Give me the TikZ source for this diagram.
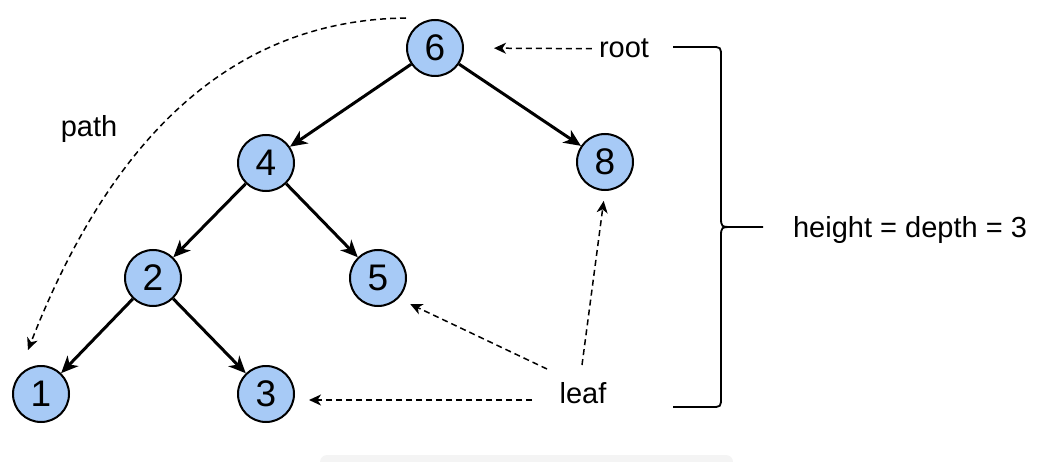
\documentclass[tikz,border=0pt]{standalone}
\usepackage{fontspec}
\setmainfont{Liberation Sans}
\usetikzlibrary{arrows.meta}
\definecolor{nodeblue}{HTML}{A7CAF6}
\definecolor{panelgray}{HTML}{F4F4F4}
\begin{document}
\begin{tikzpicture}[x=1pt,y=-1pt,
  treenode/.style={circle, draw=black, line width=2pt, fill=nodeblue,
    minimum size=56pt, inner sep=0pt, font=\fontsize{37}{42}\selectfont},
  label text/.style={inner sep=0pt, anchor=base, font=\fontsize{29}{34}\selectfont},
  treeedge/.style={line width=3pt, -{Stealth[length=17pt, width=15pt, inset=5pt]}},
  dasharrow/.style={line width=1.5pt, dash pattern=on 6pt off 4pt,
    -{Stealth[length=12pt, width=11pt, inset=3.5pt]}},
  bracket/.style={line width=1.8pt}]
\useasboundingbox (0,0) rectangle (1048,462);

% light panel peeking in at the bottom edge
\begin{scope}
  \clip (0,0) rectangle (1048,462);
  \fill[panelgray, rounded corners=7pt] (320,455) rectangle (733,490);
\end{scope}

% tree nodes
\node[treenode] (n6) at (435,48) {6};
\node[treenode] (n4) at (266,163) {4};
\node[treenode] (n8) at (605,162) {8};
\node[treenode] (n2) at (153,278) {2};
\node[treenode] (n5) at (378,278) {5};
\node[treenode] (n1) at (41,394) {1};
\node[treenode] (n3) at (266,394) {3};

% parent -> child edges
\draw[treeedge] (n6) -- (n4);
\draw[treeedge] (n6) -- (n8);
\draw[treeedge] (n4) -- (n2);
\draw[treeedge] (n4) -- (n5);
\draw[treeedge] (n2) -- (n1);
\draw[treeedge] (n2) -- (n3);

% labels
\node[label text] (root) at (624,58) {root};
\node[label text] (leaf) at (583,403) {leaf};
\node[label text] (path) at (89,137) {path};
\node[label text] (height) at (910,237) {height = depth = 3};

% root pointer
\draw[dasharrow, shorten <=7pt, shorten >=30pt] (root.west) -- (n6.east);

% leaf pointers
\coordinate (leafA) at (532,400);
\coordinate (leafB) at (547,369);
\coordinate (leafC) at (582,365);
\draw[dasharrow, shorten >=14pt] (leafA) -- (leafA -| n3.east);
\draw[dasharrow, shorten >=13pt] (leafB) -- (n5.-45);
\draw[dasharrow, shorten >=10pt] (leafC) -- (n8.south);

% root-to-leaf path
\coordinate (pathstart) at (406,18);
\coordinate (pathend) at (28,350);
\draw[dasharrow] (pathstart) .. controls (230,20) and (110,140) .. (pathend);

% curly bracket spanning the levels
\draw[bracket] (673,47) -- (711,47) .. controls (721,47) .. (721,57)
  -- (721,217) .. controls (721,227) .. (733,227) -- (763,227);
\draw[bracket] (733,227) .. controls (721,227) .. (721,237)
  -- (721,397) .. controls (721,407) .. (711,407) -- (673,407);
\end{tikzpicture}
\end{document}
